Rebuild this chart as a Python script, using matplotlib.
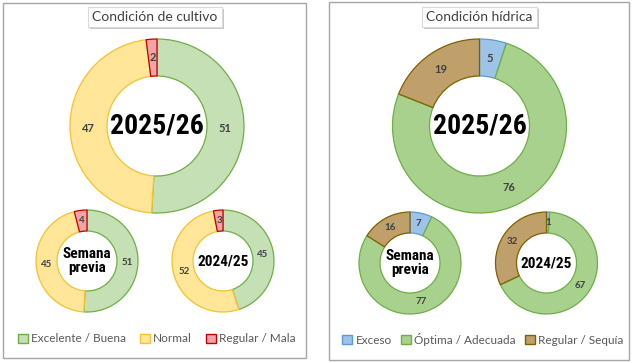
import matplotlib.pyplot as plt
from matplotlib.patches import Rectangle, Patch
import matplotlib.patheffects as pe

plt.rcParams['font.family'] = ['Lato', 'DejaVu Sans']

# condición de cultivo
cult_labels = ['Excelente / Buena', 'Normal', 'Regular / Mala']
cult_actual = [51, 47, 2]
cult_previa = [51, 45, 4]
cult_anterior = [45, 52, 3]

# condición hídrica
hid_labels = ['Exceso', 'Óptima / Adecuada', 'Regular / Sequía']
hid_actual = [5, 76, 19]
hid_previa = [7, 77, 16]
hid_anterior = [1, 67, 32]

cult_fill = ['#C5E0B4', '#FFE699', '#F4A3A8']
cult_edge = ['#70AD47', '#F2C230', '#C00000']
hid_fill = ['#9DC3E6', '#A9D18E', '#BFA06A']
hid_edge = ['#5B9BD5', '#70AD47', '#7F6000']

center_font = ['Roboto Condensed', 'Roboto', 'DejaVu Sans']

fig = plt.figure(figsize=(6.32, 3.63), dpi=100)
ax = fig.add_axes([0, 0, 1, 1])


def donut(vals, fills, edges, cx, cy, r, w, fs, txt, cfs):
    total = sum(vals)
    wedges, _, autotexts = ax.pie(
        vals, colors=fills, startangle=90, counterclock=False,
        center=(cx, cy), radius=r, wedgeprops=dict(width=w, linewidth=0.9),
        autopct=lambda p: f'{p * total / 100:.0f}', pctdistance=1 - w / (2 * r),
        textprops=dict(fontsize=fs, color='#404040', fontweight='bold'))
    for wd, ec in zip(wedges, edges):
        wd.set_edgecolor(ec)
    ax.text(cx, cy, txt, ha='center', va='center', fontsize=cfs,
            fontweight='bold', family=center_font, color='black', linespacing=1.0)


donut(cult_actual, cult_fill, cult_edge, 157, 237, 87, 37, 8, '2025/26', 20)
donut(cult_previa, cult_fill, cult_edge, 87, 102, 51, 21, 7, 'Semana\nprevia', 11)
donut(cult_anterior, cult_fill, cult_edge, 223, 102, 51, 21, 7, '2024/25', 11)

donut(hid_actual, hid_fill, hid_edge, 479.5, 237, 87, 37, 8, '2025/26', 20)
donut(hid_previa, hid_fill, hid_edge, 410, 100, 51, 21, 7, 'Semana\nprevia', 11)
donut(hid_anterior, hid_fill, hid_edge, 546.5, 100, 51, 21, 7, '2024/25', 11)

ax.set_xlim(0, 632)
ax.set_ylim(0, 363)
ax.set_aspect('equal')
ax.axis('off')

# marcos de los paneles
ax.add_patch(Rectangle((3, 5), 303, 355, fill=False, ec='#a6a6a6', lw=1))
ax.add_patch(Rectangle((329, 3), 300, 358, fill=False, ec='#a6a6a6', lw=1))

for x, title in [(155, 'Condición de cultivo'), (479.5, 'Condición hídrica')]:
    t = ax.text(x, 346, title, ha='center', va='center', fontsize=10, color='#404040',
                bbox=dict(boxstyle='square,pad=0.3', fc='white', ec='#d9d9d9', lw=0.8))
    t.get_bbox_patch().set_path_effects([pe.SimplePatchShadow(offset=(1.5, -1.5), alpha=0.3),
                                         pe.Normal()])

for labels, fills, edges, xc, cs in [(cult_labels, cult_fill, cult_edge, 157, 1.2),
                                     (hid_labels, hid_fill, hid_edge, 483, 0.8)]:
    handles = [Patch(facecolor=f, edgecolor=e, label=l) for l, f, e in zip(labels, fills, edges)]
    fig.legend(handles=handles, loc='center', bbox_to_anchor=(xc / 632, 1 - 339 / 363),
               ncol=3, frameon=False, fontsize=8.5, handlelength=0.8, handleheight=0.8,
               handletextpad=0.3, columnspacing=cs, labelcolor='#595959')

fig.savefig('out.png', dpi=100)
